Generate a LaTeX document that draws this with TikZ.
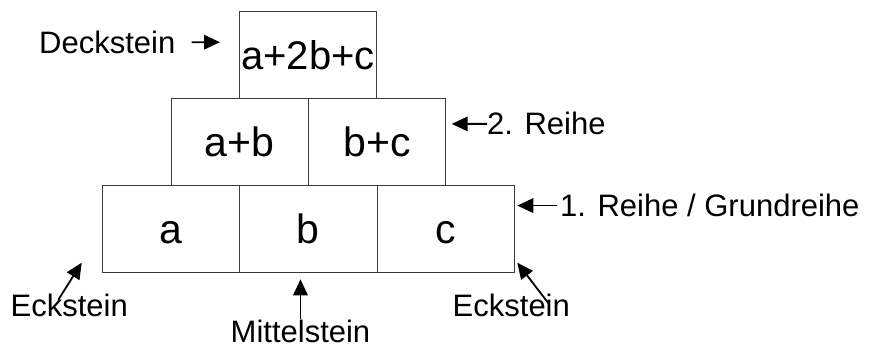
\documentclass[tikz,border=0pt]{standalone}
\usepackage{fontspec}
\setmainfont{Liberation Sans}
\usetikzlibrary{arrows.meta}
\definecolor{pyrline}{HTML}{3C3C3C}

\begin{document}
\begin{tikzpicture}[x=1pt,y=-1pt,
  stein/.style={draw=pyrline, line width=0.9pt, inner sep=0pt,
    minimum width=137.3pt, minimum height=86.7pt,
    font=\fontsize{41}{48}\selectfont, text height=29.3pt, text depth=0pt},
  beschr/.style={inner sep=0pt, anchor=base west,
    font=\fontsize{31}{37}\selectfont, text height=22.2pt, text depth=0pt},
  pfeil/.style={-{Triangle[length=16pt,width=14.5pt]}, line width=1.8pt}]
\useasboundingbox (0,0) rectangle (872,347);
% Steine der Zahlenmauer
\foreach \i/\name in {0/a,1/b,2/c}
  \node[stein] (stein-\name) at (171+137.3*\i,228.7) {\name};
\foreach \i/\name/\txt in {0/ab/a+b,1/bc/b+c}
  \node[stein] (stein-\name) at (239.7+137.3*\i,142) {\txt};
\node[stein, font=\fontsize{40}{48}\selectfont] (stein-abc) at (308,55) {a+2b+c};
% Beschriftungen
\node[beschr] (deck) at (39,53.3) {Deckstein};
\node[beschr] (reihe2) at (487,135) {2. Reihe};
\node[beschr] (reihe1) at (560,216.7) {1. Reihe / Grundreihe};
\node[beschr] (eckL) at (10.5,316.7) {Eckstein};
\node[beschr] (eckR) at (452.5,316.7) {Eckstein};
\node[beschr] (mitte) at (230.5,342) {Mittelstein};
% Pfeile
\coordinate (deckSpitze) at (220,42.2);
\coordinate (reihe2Spitze) at (451.7,123.9);
\coordinate (reihe1Spitze) at (517.3,205.6);
\coordinate (eckLSpitze) at (81.7,262.7);
\coordinate (eckRSpitze) at (517.3,262.7);
\coordinate (mitteSpitze) at (301.7,279.3);
\draw[pfeil] ([xshift=16pt]deck.east) -- (deckSpitze);
\draw[pfeil] (reihe2.west) -- (reihe2Spitze);
\draw[pfeil] ([xshift=-3pt]reihe1.west) -- (reihe1Spitze);
\draw[pfeil] ([shift={(47.8,5.5)}]eckL.north west) -- (eckLSpitze);
\draw[pfeil] ([shift={(95.8,8.8)}]eckR.north west) -- (eckRSpitze);
\draw[pfeil] ([yshift=1pt]mitte.north) -- (mitte.north |- mitteSpitze);
\end{tikzpicture}
\end{document}
